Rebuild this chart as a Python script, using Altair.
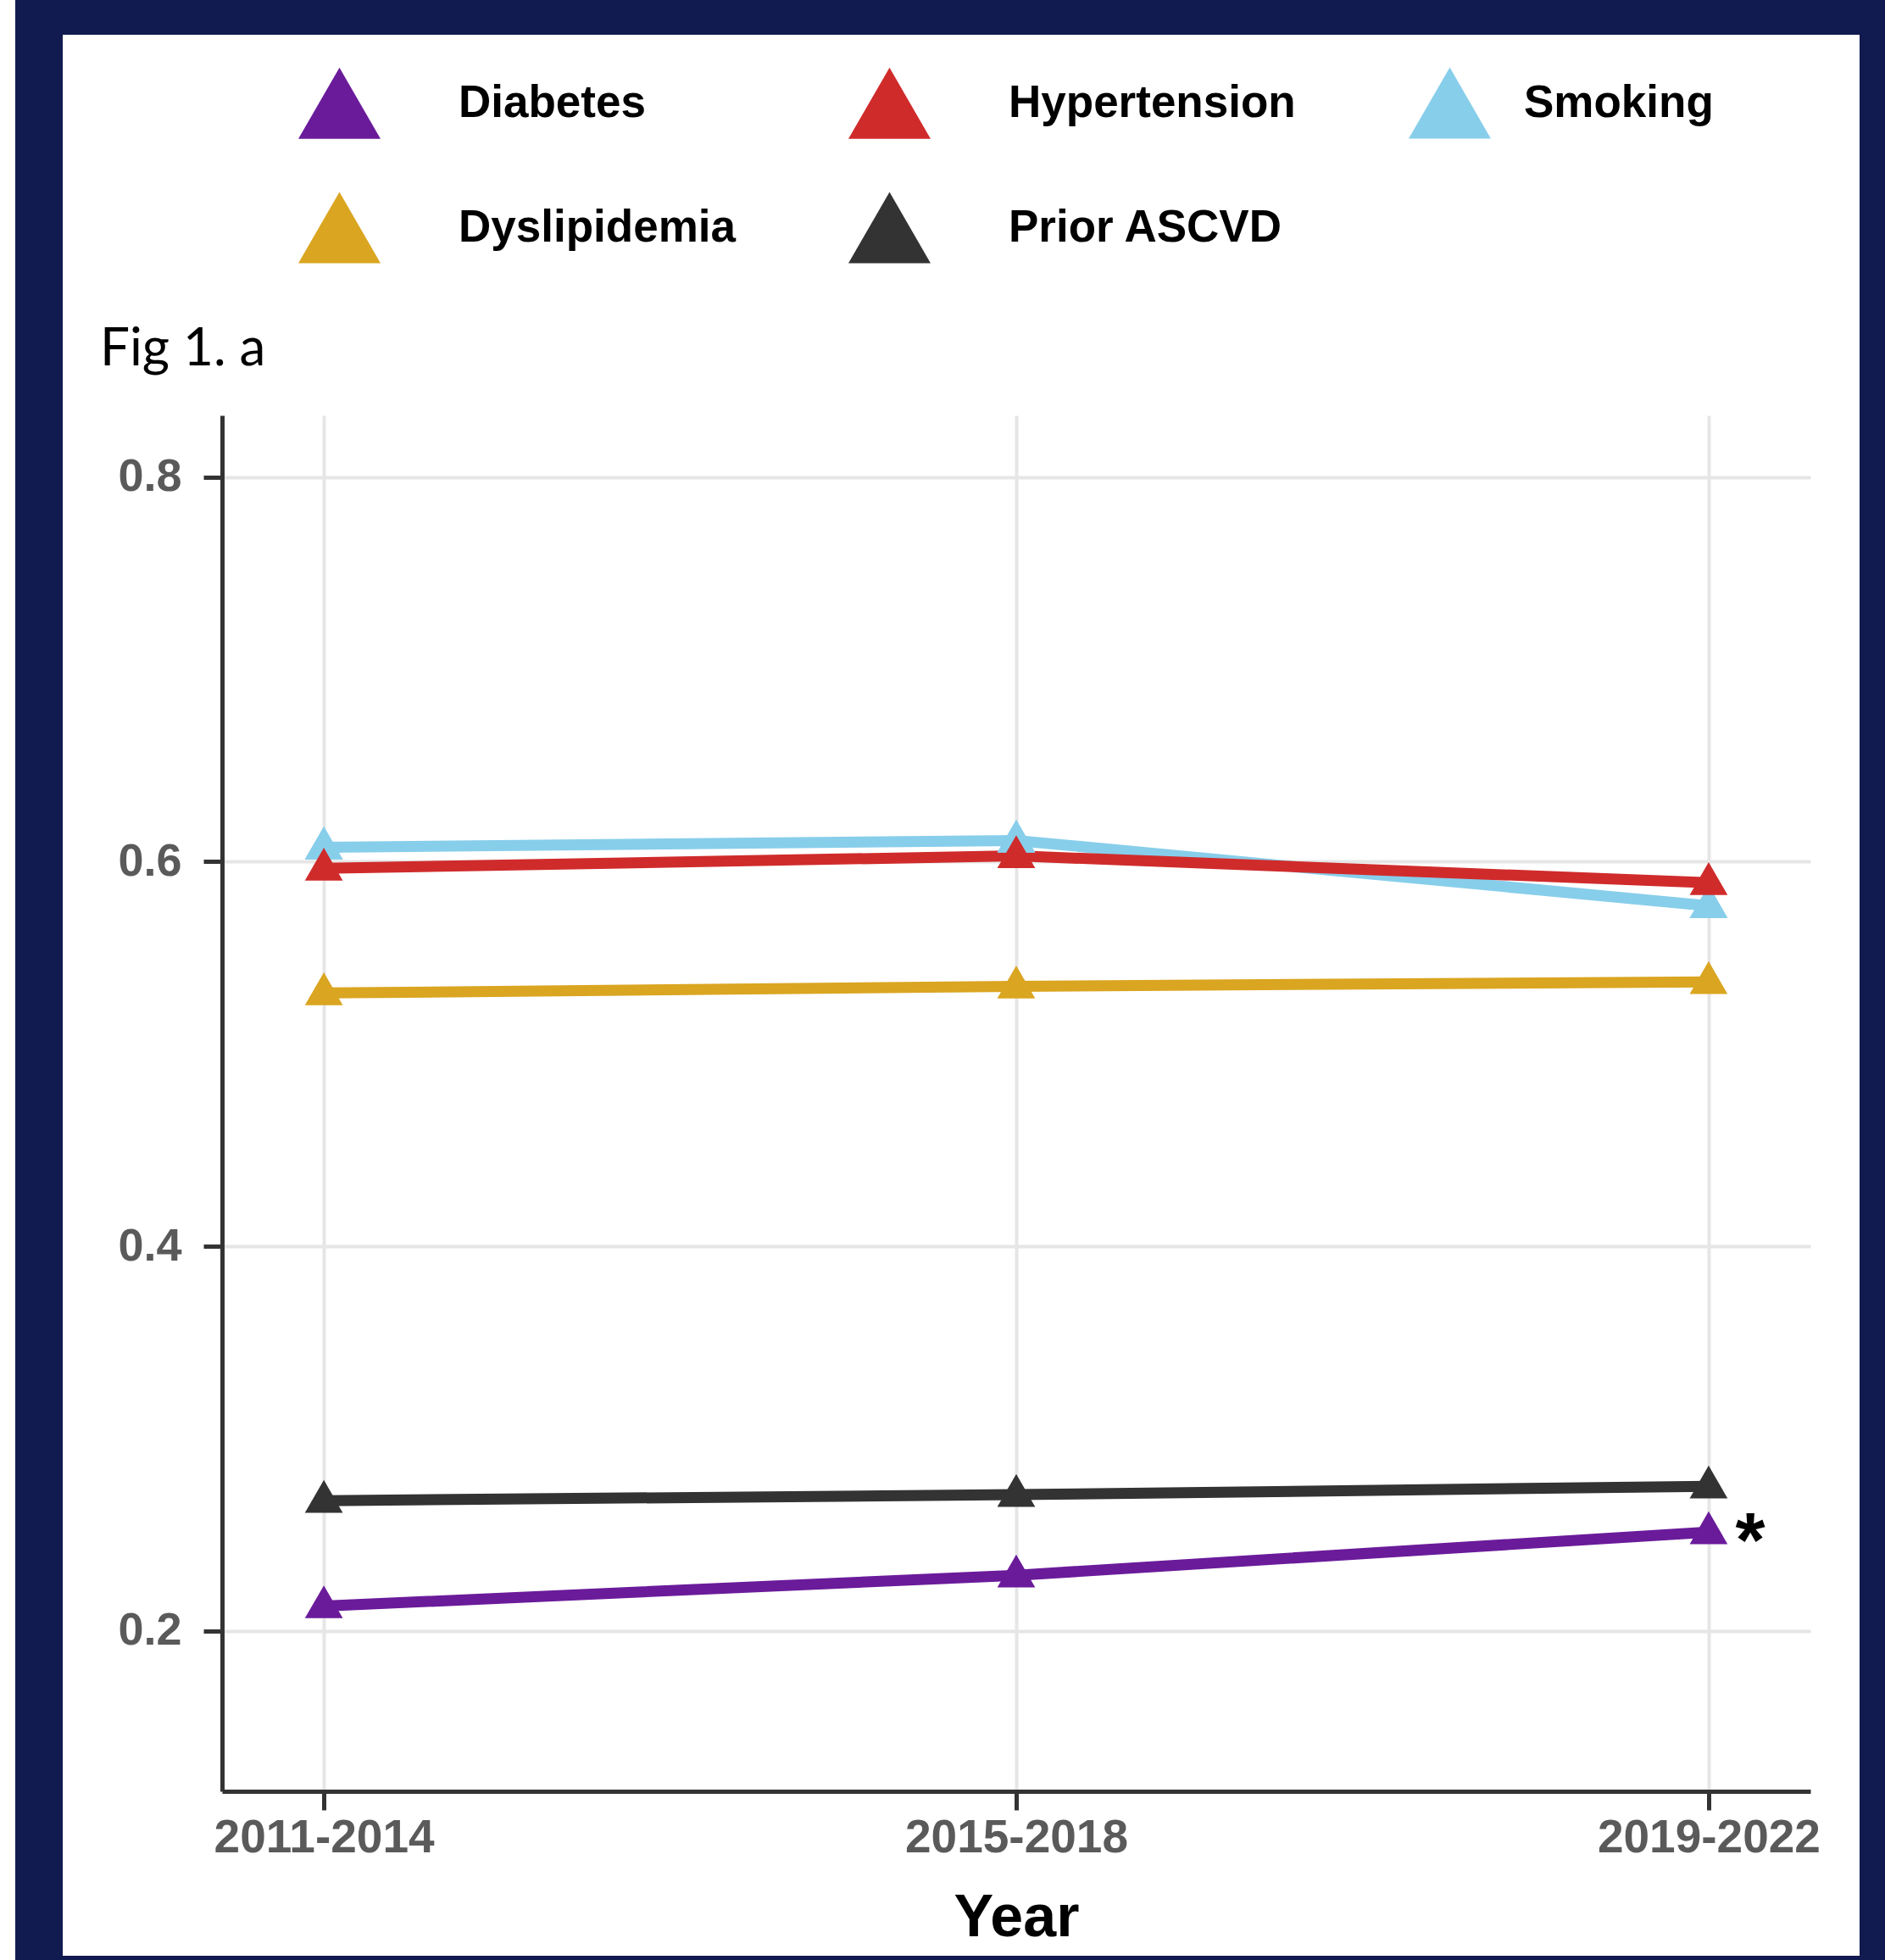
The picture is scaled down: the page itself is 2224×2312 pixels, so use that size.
import altair as alt
import pandas as pd

# ---------------- data ----------------
periods = ["2011-2014", "2015-2018", "2019-2022"]
# legend fills column by column (2 rows): this order gives
# row 1: Diabetes, Hypertension / row 2: Dyslipidemia, Prior ASCVD (Smoking in its own column)
conditions = ["Diabetes", "Dyslipidemia", "Hypertension", "Prior ASCVD", "Smoking"]
colors = ["#6a1b9a", "#daa520", "#d02b2b", "#333333", "#87ceeb"]
draw_order = ["Dyslipidemia", "Prior ASCVD", "Diabetes", "Smoking", "Hypertension"]
legend_main = ["Diabetes", "Dyslipidemia", "Hypertension", "Prior ASCVD"]
legend_side = ["Smoking"]

diabetes = [0.213, 0.229, 0.2515]
hypertension = [0.5965, 0.603, 0.589]
smoking = [0.6075, 0.611, 0.577]
dyslipidemia = [0.5317, 0.5352, 0.5375]
prior_ascvd = [0.2678, 0.2709, 0.2753]

y_ticks = [0.2, 0.4, 0.6, 0.8]
y_domain = [0.1167, 0.832]

annot_period = ["2019-2022"]
annot_value = [0.2515]
annot_text = ["*"]

fig_label = ["Fig 1. a"]

series = {
    "Diabetes": diabetes,
    "Hypertension": hypertension,
    "Smoking": smoking,
    "Dyslipidemia": dyslipidemia,
    "Prior ASCVD": prior_ascvd,
}
rows = []
for name in draw_order:
    for p, v in zip(periods, series[name]):
        rows.append({"Year": p, "Condition": name, "Value": v})
df = pd.DataFrame(rows)
annot = pd.DataFrame({"Year": annot_period, "Value": annot_value, "Label": annot_text})
fig_df = pd.DataFrame({"Label": fig_label})

NAVY = "#111b4f"

x_enc = alt.X(
    "Year:O",
    sort=periods,
    scale=alt.Scale(type="point", padding=0.147),
    axis=alt.Axis(
        title="Year", labelAngle=0, labelFont="Liberation Sans", labelFontSize=55,
        labelFontWeight="bold", labelColor="#5a5a5a", labelPadding=6, labelLimit=0,
        tickSize=22, tickWidth=5, tickColor="#333333",
        domainColor="#333333", domainWidth=5,
        grid=True, gridColor="#e6e6e6", gridWidth=4,
        titleFont="Liberation Sans", titleFontSize=70, titleFontWeight="bold",
        titleColor="#000000", titlePadding=33,
    ),
)
y_enc = alt.Y(
    "Value:Q",
    scale=alt.Scale(domain=y_domain, nice=False, zero=False),
    axis=alt.Axis(
        title=None, values=y_ticks, format=".1f", labelFont="Liberation Sans",
        labelFontSize=54, labelFontWeight="bold", labelColor="#5a5a5a",
        labelPadding=26, tickSize=22, tickWidth=5, tickColor="#333333",
        domainColor="#333333", domainWidth=5,
        grid=True, gridColor="#e6e6e6", gridWidth=4,
    ),
)
color_scale = alt.Scale(domain=conditions, range=colors)

legend_style = dict(
    orient="none", legendY=-417, title=None,
    symbolType="triangle-up", symbolSize=9400, symbolStrokeWidth=0,
    symbolOpacity=1, labelFont="Liberation Sans", labelFontSize=53,
    labelFontWeight="bold", labelColor="#000000", rowPadding=56, labelLimit=0,
)

# navy frame around the white panel (decoration)
def frame_rect(x, x2, y, y2):
    return alt.Chart(annot).mark_rect(color=NAVY).encode(
        x=alt.value(x), x2=alt.value(x2), y=alt.value(y), y2=alt.value(y2)
    )

frames = [
    frame_rect(-244, -188, -490, 1822),
    frame_rect(-244, 1962, -490, -449),
    frame_rect(1932, 1962, -490, 1822),
    frame_rect(-244, 1962, 1817, 1822),
]

fig_text = alt.Chart(fig_df).mark_text(
    font="Lato", fontSize=62, fontWeight="normal", color="#000000",
    align="left", baseline="alphabetic",
).encode(x=alt.value(-144), y=alt.value(-59), text="Label:N")

base = alt.Chart(df)
lines = base.mark_line(strokeWidth=13).encode(
    x=x_enc, y=y_enc,
    color=alt.Color("Condition:N", scale=color_scale, legend=None),
)
point_mark = dict(filled=True, shape="triangle-up", size=2000, opacity=1, yOffset=-5)

# Smoking points (drawn first, carry the separate "Smoking" legend entry)
points_side = base.transform_filter(
    alt.FieldOneOfPredicate(field="Condition", oneOf=legend_side)
).mark_point(**point_mark).encode(
    x=x_enc, y=y_enc,
    color=alt.Color(
        "Condition:N", scale=color_scale,
        legend=alt.Legend(legendX=1400, values=legend_side, labelOffset=39, **legend_style),
    ),
)
points = base.mark_point(**point_mark).encode(
    x=x_enc, y=y_enc,
    color=alt.Color(
        "Condition:N", scale=color_scale,
        legend=alt.Legend(legendX=90, values=legend_main, columns=2, labelOffset=92,
                          columnPadding=133, **legend_style),
    ),
)
stars = alt.Chart(annot).mark_text(
    font="Liberation Sans", fontSize=90, fontWeight="bold", color="#000000",
    dx=49, dy=14, baseline="middle", align="center",
).encode(x=alt.X("Year:O", sort=periods), y="Value:Q", text="Label:N")

chart = alt.layer(*frames, fig_text, lines, points_side, points, stars).resolve_scale(
    color="independent"
).resolve_legend(
    color="independent"
).properties(
    width=1874, height=1623,
    autosize=alt.AutoSizeParams(type="none"),
    padding={"left": 262, "top": 490, "right": 88, "bottom": 199},
    background="#ffffff",
).configure_view(stroke=None)

chart.save("out.html", embed_options={"renderer": "svg", "actions": False})
